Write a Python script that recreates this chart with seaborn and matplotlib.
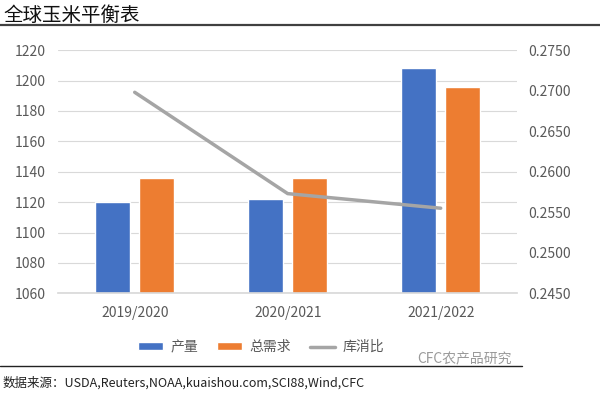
import numpy as np
import pandas as pd
import matplotlib
matplotlib.use("Agg")
import matplotlib.pyplot as plt
import seaborn as sns
from matplotlib.patches import Patch
from matplotlib.lines import Line2D

# data
years = ["2019/2020", "2020/2021", "2021/2022"]
production = [1120, 1122, 1208]
demand = [1136, 1136, 1196]
stock_ratio = [0.2698, 0.2573, 0.2555]

left_ticks = [1060, 1080, 1100, 1120, 1140, 1160, 1180, 1200, 1220]
right_ticks = [0.2450, 0.2500, 0.2550, 0.2600, 0.2650, 0.2700, 0.2750]

sns.set_theme(style="white")
plt.rcParams['font.family'] = ['Noto Sans CJK SC', 'DejaVu Sans']

blue = "#4472C4"
orange = "#ED7D31"
gray = "#A5A5A5"
text_col = "#595959"

df = pd.DataFrame({
    "year": years * 2,
    "value": production + demand,
    "series": ["产量"] * 3 + ["总需求"] * 3,
})

fig = plt.figure(figsize=(6, 3.98), dpi=100)
ax = fig.add_axes([0.097, 0.263, 0.765, 0.611])

sns.barplot(data=df, x="year", y="value", hue="series", order=years,
            palette=[blue, orange], width=0.576, gap=0.205, ax=ax,
            legend=False, saturation=1)
ax.set_ylim(1060, 1220)
ax.set_yticks(left_ticks)
ax.set_xlim(-0.5, 2.5)
ax.grid(axis="y", color="#D9D9D9", linewidth=0.8)
ax.set_axisbelow(True)
for s in ax.spines.values():
    s.set_visible(False)
ax.spines["bottom"].set_visible(True)
ax.spines["bottom"].set_color("#D9D9D9")
ax.set_xlabel("")
ax.set_ylabel("")
ax.tick_params(axis="both", length=0, labelsize=10, colors=text_col)
ax.tick_params(axis="x", pad=9)
ax.tick_params(axis="y", pad=9)

ax2 = ax.twinx()
sns.lineplot(x=years, y=stock_ratio, color=gray, linewidth=2.5, ax=ax2, sort=False)
ax2.set_ylim(0.2450, 0.2750)
ax2.set_yticks(right_ticks)
ax2.set_yticklabels([f"{t:.4f}" for t in right_ticks])
ax2.set_xlim(-0.5, 2.5)
for s in ax2.spines.values():
    s.set_visible(False)
ax2.tick_params(axis="y", length=0, labelsize=10, colors=text_col, pad=8)
ax2.grid(False)

handles = [
    Patch(facecolor=blue, label="产量"),
    Patch(facecolor=orange, label="总需求"),
    Line2D([0], [0], color=gray, linewidth=2.5, label="库消比"),
]
fig.legend(handles=handles, loc="center", bbox_to_anchor=(0.435, 0.128), ncol=3,
           frameon=False, fontsize=10, labelcolor=text_col, handlelength=1.8,
           handleheight=0.45, columnspacing=1.4, handletextpad=0.5)

fig.text(0.005, 0.962, "全球玉米平衡表", fontsize=14, color="#111111", va="center")
fig.add_artist(Line2D([0, 1], [0.937, 0.937], color="#404040", linewidth=1.6))
fig.add_artist(Line2D([0, 0.87], [0.080, 0.080], color="#222222", linewidth=1.0))
fig.text(0.695, 0.098, "CFC农产品研究", fontsize=10, color="#9A9A9A", va="center")
fig.text(0.005, 0.038, "数据来源：USDA,Reuters,NOAA,kuaishou.com,SCI88,Wind,CFC",
         fontsize=9, color="#222222", va="center")

fig.savefig("out.png", dpi=100, facecolor="white")
